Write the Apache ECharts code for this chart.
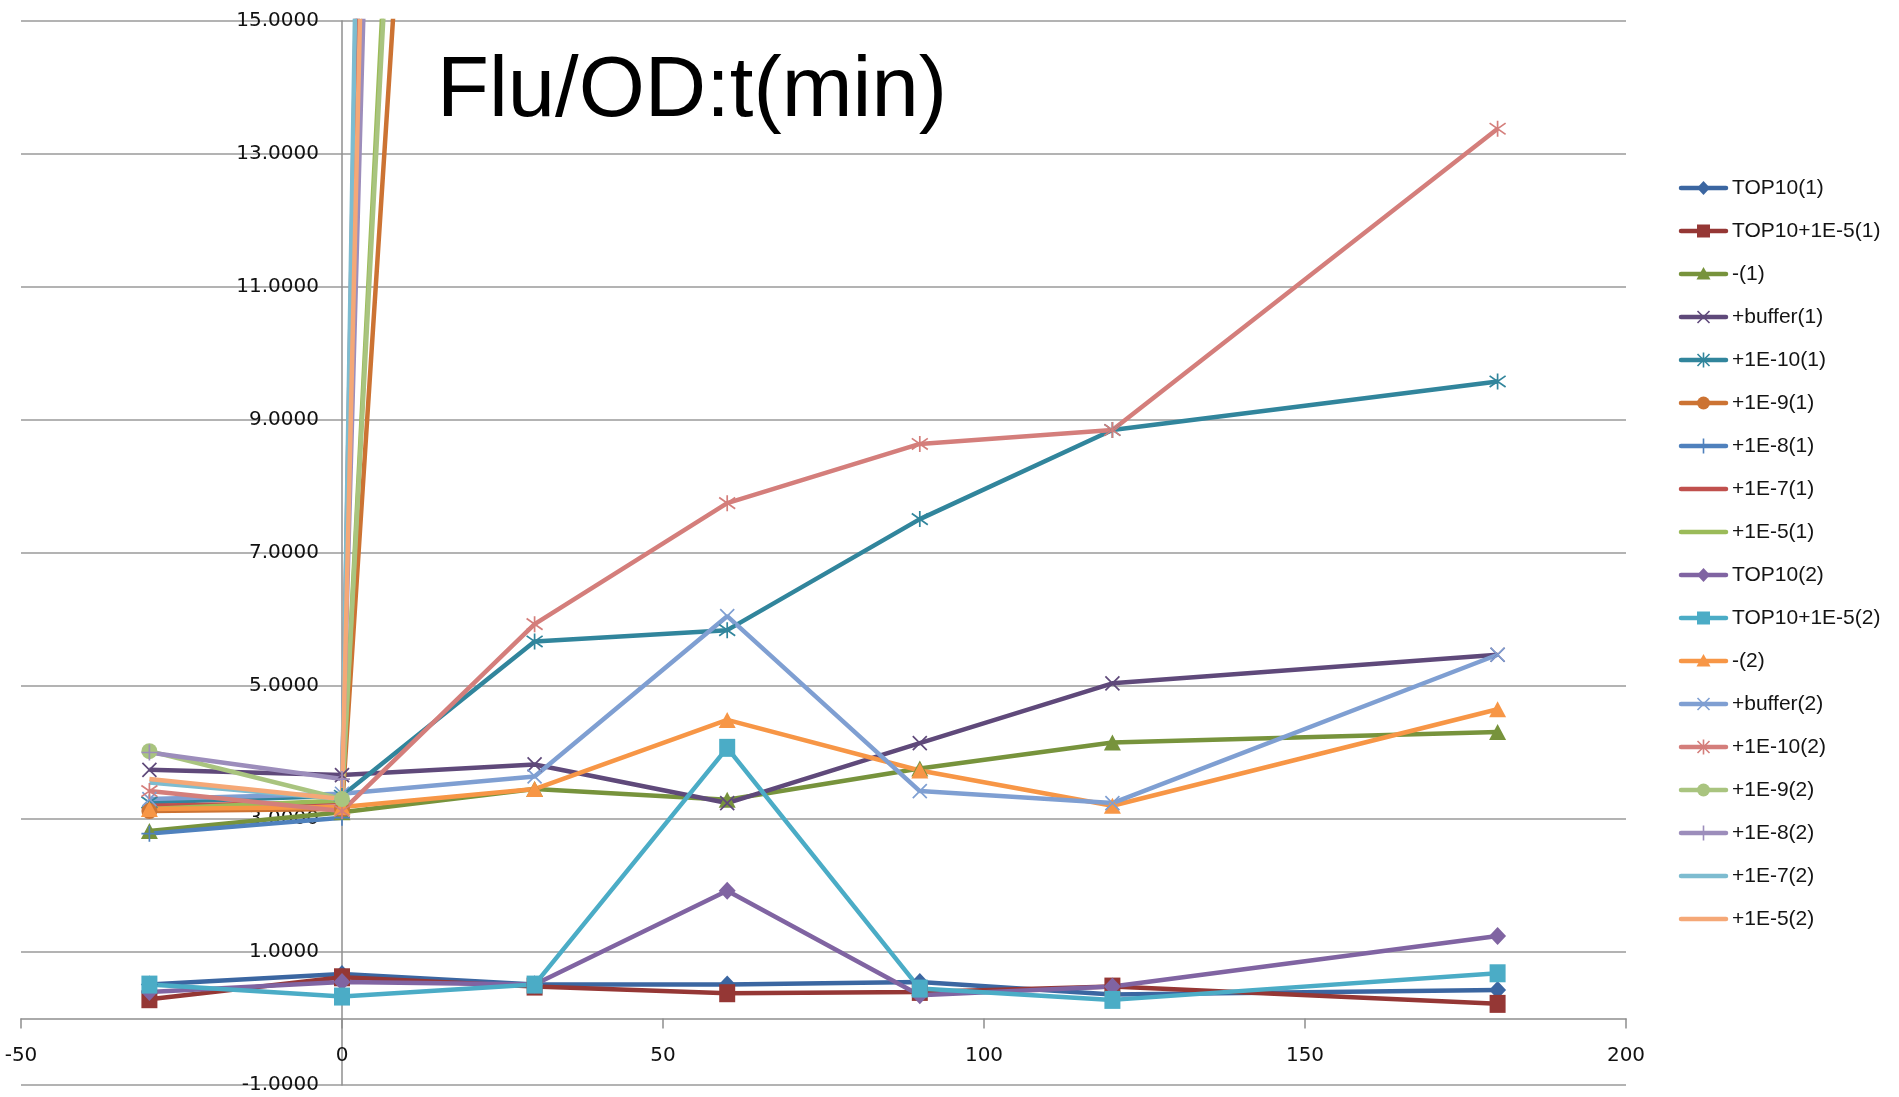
<!DOCTYPE html>
<html>
<head>
<meta charset="utf-8">
<title>Flu/OD:t(min)</title>
<script src="https://cdn.jsdelivr.net/npm/echarts@6/dist/echarts.min.js"></script>
<style>
  html, body { margin: 0; padding: 0; background: #ffffff; }
  #chart { width: 1899px; height: 1097px; }
</style>
</head>
<body>
<div id="chart"></div>
<script>
// Sampling times (min)
const times = [-30, 0, 30, 60, 90, 120, 180];

// Flu/OD readings per condition, one value per sampling time.
// The +1E-9 … +1E-5 runs climb far above the plotted range after t = 0;
// only their first reading past zero is kept, the later ones are left empty.
const top10_1      = [0.51, 0.67, 0.51, 0.51, 0.55, 0.36, 0.43];
const top10e5_1    = [0.29, 0.62, 0.48, 0.38, 0.40, 0.48, 0.22];
const minus_1      = [2.82, 3.10, 3.45, 3.29, 3.76, 4.15, 4.31];
const buffer_1     = [3.74, 3.66, 3.82, 3.24, 4.14, 5.04, 5.47];
const e10_1        = [3.25, 3.35, 5.67, 5.84, 7.51, 8.85, 9.58];
const e9_1         = [3.12, 3.15, 48.0, null, null, null, null];
const e8_1         = [2.78, 3.02, 150.0, null, null, null, null];
const e7_1         = [3.20, 3.25, 170.0, null, null, null, null];
const e5_1         = [3.15, 3.28, 60.0, null, null, null, null];
const top10_2      = [0.40, 0.55, 0.51, 1.92, 0.35, 0.48, 1.24];
const top10e5_2    = [0.51, 0.33, 0.51, 4.07, 0.45, 0.28, 0.68];
const minus_2      = [3.15, 3.18, 3.45, 4.49, 3.73, 3.20, 4.65];
const buffer_2     = [3.30, 3.38, 3.64, 6.05, 3.42, 3.24, 5.47];
const e10_2        = [3.42, 3.12, 5.93, 7.75, 8.64, 8.85, 13.38];
const e9_2         = [4.02, 3.30, 58.0, null, null, null, null];
const e8_2         = [4.00, 3.60, 107.0, null, null, null, null];
const e7_2         = [3.55, 3.30, 178.0, null, null, null, null];
const e5_2         = [3.60, 3.30, 129.0, null, null, null, null];

// Axis ticks
const xTicks = { min: -50, max: 200, step: 50 };
const yTicks = { min: -1, max: 15, step: 2 };

// Marker outlines drawn as strokes
const X_MARK = 'path://M0,0L10,10M10,0L0,10';
const STAR_MARK = 'path://M1.5,1.5L8.5,8.5M8.5,1.5L1.5,8.5M5,0L5,10';
const PLUS_MARK = 'path://M5,0L5,10M0,5L10,5';
const DASH_MARK = 'path://M0,5L10,5';

const seriesDefs = [
  { name: 'TOP10(1)',        values: top10_1,   color: '#3B66A1', mark: 'diamond' },
  { name: 'TOP10+1E-5(1)',   values: top10e5_1, color: '#953735', mark: 'rect' },
  { name: '-(1)',            values: minus_1,   color: '#77933C', mark: 'triangle' },
  { name: '+buffer(1)',      values: buffer_1,  color: '#5F497A', mark: 'x' },
  { name: '+1E-10(1)',       values: e10_1,     color: '#31859C', mark: 'star' },
  { name: '+1E-9(1)',        values: e9_1,      color: '#CC7333', mark: 'circle' },
  { name: '+1E-8(1)',        values: e8_1,      color: '#4F81BD', mark: 'plus' },
  { name: '+1E-7(1)',        values: e7_1,      color: '#C0504D', mark: 'none' },
  { name: '+1E-5(1)',        values: e5_1,      color: '#9BBB59', mark: 'none' },
  { name: 'TOP10(2)',        values: top10_2,   color: '#8064A2', mark: 'diamond' },
  { name: 'TOP10+1E-5(2)',   values: top10e5_2, color: '#4BACC6', mark: 'rect' },
  { name: '-(2)',            values: minus_2,   color: '#F79646', mark: 'triangle' },
  { name: '+buffer(2)',      values: buffer_2,  color: '#7F9FD2', mark: 'x' },
  { name: '+1E-10(2)',       values: e10_2,     color: '#D47E7B', mark: 'star' },
  { name: '+1E-9(2)',        values: e9_2,      color: '#A9C47F', mark: 'circle' },
  { name: '+1E-8(2)',        values: e8_2,      color: '#9C8DBB', mark: 'plus' },
  { name: '+1E-7(2)',        values: e7_2,      color: '#7DBCD0', mark: 'none' },
  { name: '+1E-5(2)',        values: e5_2,      color: '#F5A877', mark: 'none' }
];

function markerStyle(mark) {
  switch (mark) {
    case 'diamond':  return { symbol: 'diamond', symbolSize: [17, 18], stroked: false };
    case 'rect':     return { symbol: 'rect', symbolSize: [16, 18], stroked: false };
    case 'triangle': return { symbol: 'triangle', symbolSize: [17, 16], stroked: false };
    case 'circle':   return { symbol: 'circle', symbolSize: 16, stroked: false };
    case 'x':        return { symbol: X_MARK, symbolSize: 14, stroked: true };
    case 'star':     return { symbol: STAR_MARK, symbolSize: 16, stroked: true };
    case 'plus':     return { symbol: PLUS_MARK, symbolSize: 16, stroked: true };
    default:         return { symbol: DASH_MARK, symbolSize: 10, stroked: true, hidden: true };
  }
}

const series = seriesDefs.map(function (d) {
  const m = markerStyle(d.mark);
  return {
    name: d.name,
    type: 'line',
    data: times.map(function (t, i) { return [t, d.values[i]]; }),
    symbol: m.symbol,
    symbolSize: m.symbolSize,
    showSymbol: !m.hidden,
    connectNulls: false,
    clip: true,
    lineStyle: { color: d.color, width: 4.5 },
    itemStyle: {
      color: d.color,
      borderColor: d.color,
      borderWidth: m.stroked ? 1.7 : 0
    },
    emphasis: { disabled: true }
  };
});

// ---- Key: a short line with the series marker, then its name ----
const KEY = { left: 1681, top: 188, rowStep: 43, lineLen: 45, textGap: 51 };

function keyMarker(mark, color) {
  const cx = KEY.lineLen / 2;
  const stroke = { stroke: color, lineWidth: 1.6 };
  function seg(x1, y1, x2, y2) {
    return { type: 'line', shape: { x1: cx + x1, y1: y1, x2: cx + x2, y2: y2 }, style: stroke };
  }
  switch (mark) {
    case 'diamond':
      return [{ type: 'polygon', shape: { points: [[cx, -7], [cx + 6.5, 0], [cx, 7], [cx - 6.5, 0]] }, style: { fill: color } }];
    case 'rect':
      return [{ type: 'rect', shape: { x: cx - 6.5, y: -6.5, width: 13, height: 13 }, style: { fill: color } }];
    case 'triangle':
      return [{ type: 'polygon', shape: { points: [[cx, -7], [cx + 7, 5.5], [cx - 7, 5.5]] }, style: { fill: color } }];
    case 'circle':
      return [{ type: 'circle', shape: { cx: cx, cy: 0, r: 6.5 }, style: { fill: color } }];
    case 'x':
      return [seg(-6, -6, 6, 6), seg(6, -6, -6, 6)];
    case 'star':
      return [seg(-6, -6, 6, 6), seg(6, -6, -6, 6), seg(0, -7.5, 0, 7.5)];
    case 'plus':
      return [seg(0, -7.5, 0, 7.5), seg(-7, 0, 7, 0)];
    default:
      return [];
  }
}

const keyItems = seriesDefs.map(function (d, i) {
  return {
    type: 'group',
    x: KEY.left,
    y: KEY.top + i * KEY.rowStep,
    silent: true,
    children: [
      { type: 'line', shape: { x1: 0, y1: 0, x2: KEY.lineLen, y2: 0 }, style: { stroke: d.color, lineWidth: 4.5, lineCap: 'round' } }
    ].concat(keyMarker(d.mark, d.color)).concat([
      {
        type: 'text',
        x: KEY.textGap,
        y: 0,
        style: {
          text: d.name,
          font: '21px "Liberation Sans"',
          fill: '#141414',
          verticalAlign: 'middle',
          align: 'left'
        }
      }
    ])
  };
});

const GRID = { left: 21, right: 273, top: 21, bottom: 12 };
const AXIS_GRAY = '#8f8f8f';
const LABEL_FONT = { fontFamily: 'DejaVu Sans', fontSize: 20, color: '#111111' };

const chart = echarts.init(document.getElementById('chart'), null, { renderer: 'canvas' });

chart.setOption({
  animation: false,
  backgroundColor: '#ffffff',
  title: {
    text: 'Flu/OD:t(min)',
    left: 437,
    top: 50,
    padding: 0,
    textStyle: {
      fontFamily: 'Liberation Sans',
      fontSize: 85,
      fontWeight: 'normal',
      color: '#000000'
    }
  },
  grid: {
    left: GRID.left,
    right: GRID.right,
    top: GRID.top,
    bottom: GRID.bottom,
    outerBoundsMode: 'none',
    containLabel: false
  },
  xAxis: {
    type: 'value',
    position: 'bottom',
    min: xTicks.min,
    max: xTicks.max,
    interval: xTicks.step,
    axisLine: { show: true, onZero: false, lineStyle: { color: AXIS_GRAY, width: 1.5 } },
    axisTick: { show: true, inside: false, length: 10, lineStyle: { color: AXIS_GRAY, width: 1.5 } },
    axisLabel: Object.assign({ margin: 27 }, LABEL_FONT),
    splitLine: { show: false }
  },
  yAxis: {
    type: 'value',
    position: 'left',
    min: yTicks.min,
    max: yTicks.max,
    interval: yTicks.step,
    axisLine: { show: true, onZero: false, lineStyle: { color: AXIS_GRAY, width: 1.5 } },
    axisTick: { show: false },
    axisLabel: Object.assign({
      margin: 23,
      formatter: function (v) { return v.toFixed(4); }
    }, LABEL_FONT),
    splitLine: { show: true, lineStyle: { color: '#9a9a9a', width: 1.5 } }
  },
  graphic: keyItems,
  series: series
});

// Put each axis (line, ticks and labels) through the other axis's zero.
const origin = chart.convertToPixel({ gridIndex: 0 }, [0, 0]);
const corner = chart.convertToPixel({ gridIndex: 0 }, [xTicks.min, yTicks.min]);
chart.setOption({
  xAxis: { offset: -(corner[1] - origin[1]) },
  yAxis: { offset: -(origin[0] - corner[0]) }
});
</script>
</body>
</html>
